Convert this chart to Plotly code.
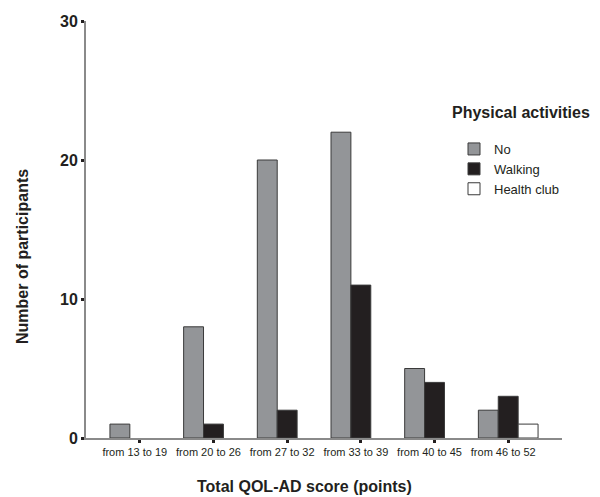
import plotly.graph_objects as go

categories = ["from 13 to 19", "from 20 to 26", "from 27 to 32", "from 33 to 39", "from 40 to 45", "from 46 to 52"]
no_vals = [1, 8, 20, 22, 5, 2]
walking_vals = [0, 1, 2, 11, 4, 3]
health_vals = [0, 0, 0, 0, 0, 1]

fig = go.Figure()
specs = [("No", no_vals, "#939598"), ("Walking", walking_vals, "#231f20"), ("Health club", health_vals, "#ffffff")]
for name, vals, col in specs:
    fig.add_trace(go.Bar(
        x=list(range(len(categories))), y=[v if v else None for v in vals], name=name,
        marker=dict(color=col, line=dict(color="#3a3a3a", width=1)),
    ))

# page offset (body margin) of 8px in the screenshot
OFF = 8
W, H = 600, 497
# target screen positions of plot area
SL, SR, ST, SB = 86, 562, 21, 438
L, T = SL - OFF, ST - OFF
R, B = W - (SR - OFF), H - (SB - OFF)
pw, ph = W - L - R, H - T - B

def px(x):
    return (x - OFF - L) / pw

def py(y):
    return (H - B - (y - OFF)) / ph

fig.update_layout(
    width=W, height=H,
    margin=dict(l=L, r=R, t=T, b=B),
    paper_bgcolor="white", plot_bgcolor="white",
    barmode="group", bargap=0.19, bargroupgap=0,
    font=dict(family="Liberation Sans, Arial, sans-serif", color="#231f20"),
    showlegend=True,
    legend=dict(x=px(454), y=py(134), xanchor="left", yanchor="top",
                font=dict(size=13), bgcolor="rgba(0,0,0,0)",
                itemwidth=30, tracegroupgap=2),
    annotations=[
        dict(text="<b>Physical activities</b>", x=px(450), y=py(113),
             xref="paper", yref="paper", xanchor="left", yanchor="middle",
             showarrow=False, font=dict(size=16, color="#231f20")),
        dict(text="<b>Number of participants</b>", x=px(22), y=py(257),
             xref="paper", yref="paper", xanchor="center", yanchor="middle", textangle=-90,
             showarrow=False, font=dict(size=16, color="#231f20")),
        dict(text="<b>Total QOL-AD score (points)</b>", x=px(304), y=py(486),
             xref="paper", yref="paper", xanchor="center", yanchor="middle",
             showarrow=False, font=dict(size=16, color="#231f20")),
    ],
)

fig.update_xaxes(
    tickmode="array", tickvals=list(range(len(categories))), ticktext=categories,
    range=[-0.73, 5.73], showline=True, linecolor="#8a8a8a", linewidth=2,
    ticks="outside", ticklen=3, tickwidth=3, tickcolor="#231f20",
    tickfont=dict(size=11), ticklabelshift=-5,
    showgrid=False, zeroline=False, automargin=False,
)
fig.update_yaxes(
    range=[0, 30], tickvals=[0, 10, 20, 30], showline=True, linecolor="#8a8a8a", linewidth=2,
    ticks="outside", ticklen=3, tickwidth=3, tickcolor="#231f20",
    tickfont=dict(size=16, weight="bold"),
    showgrid=False, zeroline=False, automargin=False,
)

fig.write_html("out.html")
